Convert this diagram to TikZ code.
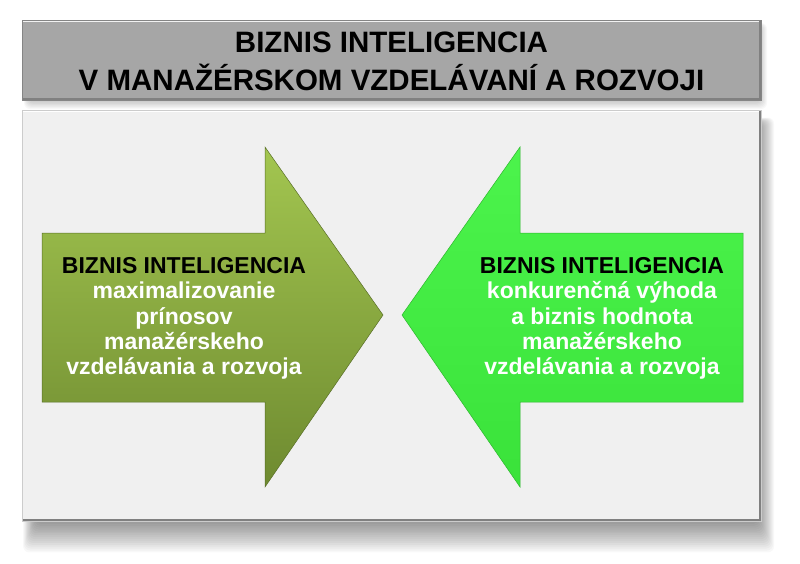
\documentclass[tikz,border=0pt]{standalone}
\usepackage{fontspec}
\setmainfont{Liberation Sans}
\begin{document}
\begin{tikzpicture}[x=1pt,y=-1pt,
  shadowlayer/.style={fill=black, fill opacity=0.028, rounded corners=6pt},
  titlebox/.style={fill=titlegray, draw=titlegray!80!black, line width=0.6pt},
  panelbox/.style={fill=panelgray, draw=panelgray!85!black, line width=0.6pt},
  edgedark/.style={draw=black!50, line width=1.6pt},
  arrowtext/.style={align=center, font=\bfseries\fontsize{23}{25.3}\selectfont, text=white, inner sep=0pt, opacity=1, text opacity=1},
  titletext/.style={align=center, font=\bfseries\fontsize{29.5}{38}\selectfont, text=black, inner sep=0pt, opacity=1, text opacity=1}
]
\definecolor{titlegray}{RGB}{166,166,166}
\definecolor{panelgray}{RGB}{240,240,240}
\definecolor{oliveT}{RGB}{163,198,80}
\definecolor{oliveB}{RGB}{110,138,48}
\definecolor{greenT}{RGB}{76,244,76}
\definecolor{greenB}{RGB}{58,226,58}
\useasboundingbox (0,0) rectangle (800,563);
\fill[white] (0,0) rectangle (800,563);
% shadows
\begin{scope}
\foreach \i in {0,...,16}
  \fill[shadowlayer] (36-\i*0.8,124-\i*0.4) rectangle (758+\i*1.0,522+\i*1.9);
\foreach \i in {0,...,10}
  \fill[shadowlayer] (30-\i*0.6,26-\i*0.3) rectangle (758+\i*0.9,98+\i*1.1);
\end{scope}
% title box
\draw[titlebox] (22,20) rectangle (761,100);
\draw[white!85!titlegray, line width=1.5pt] (23,21.5) -- (760,21.5);
\draw[edgedark] (23,99.2) -- (760.2,99.2) -- (760.2,21);
% panel
\draw[panelbox] (22,110) rectangle (761,521);
\draw[white, line width=1.5pt] (23,111.5) -- (760,111.5);
\draw[edgedark] (23,520.2) -- (760.2,520.2) -- (760.2,111);
% left arrow
\shade[top color=oliveT, bottom color=oliveB, draw=oliveB!80!black, line width=0.5pt]
  (42,233) -- (265,233) -- (265,147) -- (383,315) -- (265,487) -- (265,402) -- (42,402) -- cycle;
% right arrow
\shade[top color=greenT, bottom color=greenB, draw=greenB!80!black, line width=0.5pt]
  (743,233) -- (520,233) -- (520,147) -- (402,315) -- (520,487) -- (520,402) -- (743,402) -- cycle;
\node[titletext] (title) at (391.5,61) {BIZNIS INTELIGENCIA\\V MANAŽÉRSKOM VZDELÁVANÍ A ROZVOJI};
\node[arrowtext] (lt) at (184,318.5) {\textcolor{black}{BIZNIS INTELIGENCIA}\\maximalizovanie\\prínosov\\manažérskeho\\vzdelávania a rozvoja};
\node[arrowtext] (rt) at (602,318.5) {\textcolor{black}{BIZNIS INTELIGENCIA}\\konkurenčná výhoda\\a biznis hodnota\\manažérskeho\\vzdelávania a rozvoja};
\end{tikzpicture}
\end{document}
